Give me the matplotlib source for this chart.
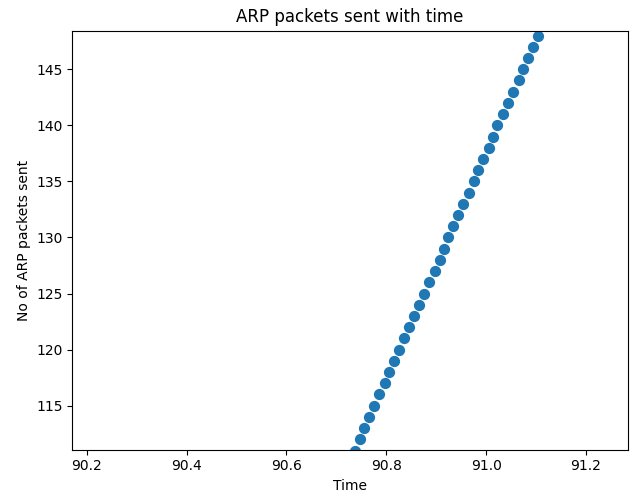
import matplotlib
matplotlib.use("Agg")
import matplotlib.pyplot as plt

# ARP packet count vs time
packets = list(range(111, 149))
times = [90.737, 90.748, 90.756, 90.765, 90.775, 90.786, 90.797, 90.806,
         90.816, 90.826, 90.836, 90.846, 90.856, 90.866, 90.876, 90.886,
         90.897, 90.907, 90.916, 90.924, 90.933, 90.944, 90.954, 90.965,
         90.975, 90.984, 90.994, 91.005, 91.013, 91.022, 91.034, 91.044,
         91.054, 91.065, 91.074, 91.084, 91.094, 91.104]

fig = plt.figure(figsize=(6.31, 4.95), dpi=100)
ax = fig.add_subplot(111)
fig.subplots_adjust(left=0.1146, right=0.9948, bottom=0.0919, top=0.938)

ax.scatter(times, packets, s=50, color="#1f77b4")
ax.set_xlim(90.171, 91.2835)
ax.set_ylim(111.09, 148.44)
ax.set_xticks([90.2, 90.4, 90.6, 90.8, 91.0, 91.2])
ax.set_yticks([115, 120, 125, 130, 135, 140, 145])
ax.set_title("ARP packets sent with time")
ax.set_xlabel("Time")
ax.set_ylabel("No of ARP packets sent")

fig.savefig("out.png", dpi=100)
